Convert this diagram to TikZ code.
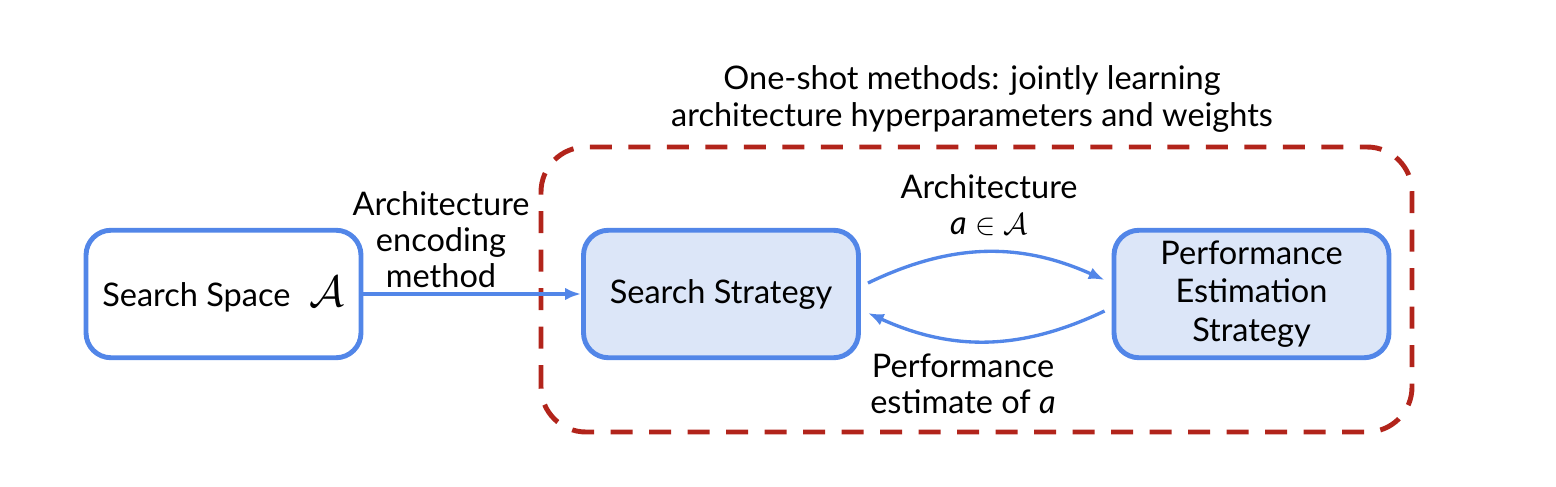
\documentclass[tikz,border=0pt]{standalone}
\usepackage{fontspec}
\setmainfont{Lato}
\usetikzlibrary{arrows.meta}
\definecolor{boxblue}{RGB}{82,134,232}
\definecolor{fillblue}{RGB}{220,230,248}
\definecolor{oneshotred}{RGB}{178,36,27}
\begin{document}
\begin{tikzpicture}
[font=\fontsize{18.5}{20.5}\selectfont, line width=0.75pt,
block/.style={rectangle, rounded corners=0.5cm, draw=boxblue, line width=2.8pt, minimum width=5.5cm, minimum height=2.55cm, align=center, inner sep=0pt},
blockfill/.style={block, fill=fillblue},
flow/.style={-{Latex[length=9pt, width=7pt]}, draw=boxblue, line width=1.9pt},
lbl/.style={align=center, inner sep=0pt}]

\useasboundingbox (0,0) rectangle (31.12,9.72);

\draw[oneshotred, line width=2.8pt, dash pattern=on 0.44cm off 0.33cm, rounded corners=0.9cm] (10.82,1.08) rectangle (28.24,6.78);

\node[block] (space) at (4.47,3.84) {Search Space\hspace{0.6em}{\fontsize{25}{25}\selectfont$\mathcal{A}$}};
\node[blockfill] (strategy) at (14.42,3.84) {Search Strategy};
\node[blockfill, font=\fontsize{18.5}{22}\selectfont] (estimation) at (25.03,3.84) {Performance\\Estimation\\Strategy};

\draw[flow] (space.east) -- (strategy.west);
\draw[flow] ([shift={(0.14,0.22)}]strategy.east) to[bend left=25] ([shift={(-0.14,0.28)}]estimation.west);
\draw[flow] ([shift={(-0.14,-0.34)}]estimation.west) to[bend left=25] ([shift={(0.14,-0.38)}]strategy.east);

\node[lbl] (encoding) at (8.82,4.92) {Architecture\\encoding\\method};
\node[lbl] (arch) at (19.78,5.62) {Architecture\\\textit{a} $\in \mathcal{A}$};
\node[lbl] (perf) at (19.26,2.04) {Performance\\estimate of \textit{a}};
\node[lbl] (oneshot) at (19.44,7.74) {One-shot methods: jointly learning\\architecture hyperparameters and weights};
\end{tikzpicture}
\end{document}
